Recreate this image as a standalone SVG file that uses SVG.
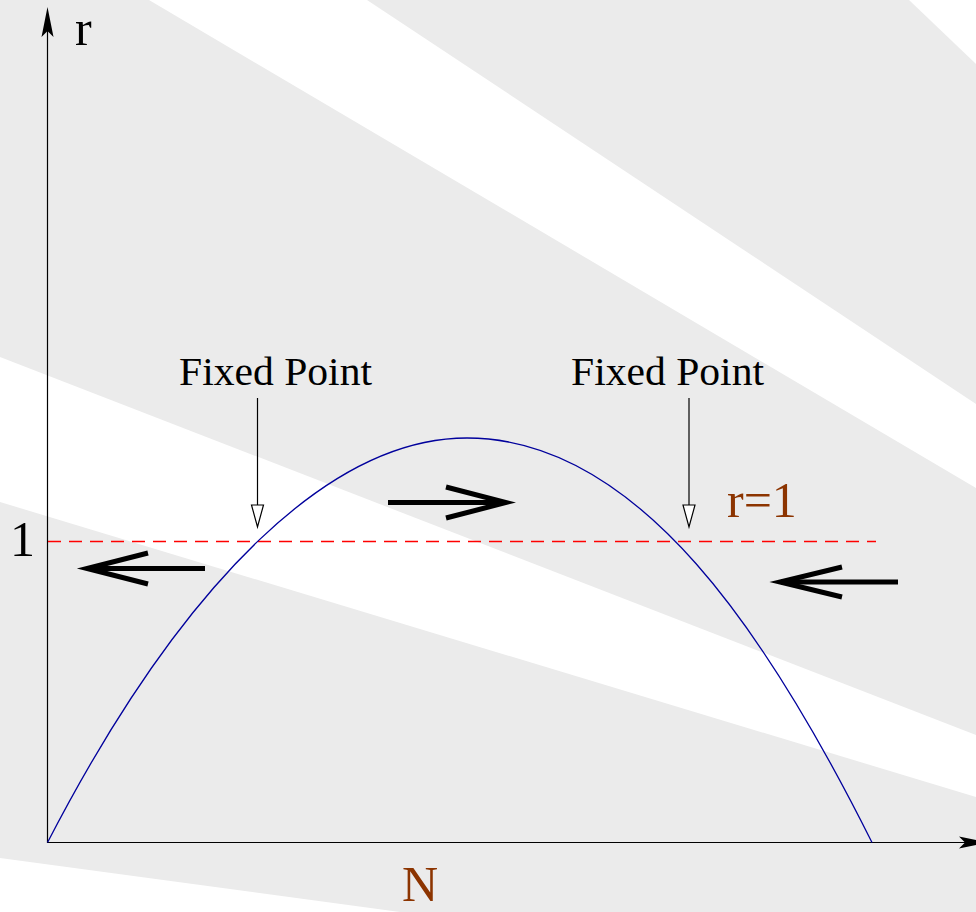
<svg xmlns="http://www.w3.org/2000/svg" width="976" height="912" viewBox="0 0 976 912">
  <defs>
    <style>
      .serif { font-family: "Liberation Serif", "Times New Roman", serif; }
      .lbl { font-size: 50px; fill: #000; }
      .brown { fill: #8c3400; }
      .fp { font-size: 40px; fill: #000; }
      .axis { stroke: #000; stroke-width: 1.2; fill: none; }
      .pointer { stroke: #000; stroke-width: 1.2; fill: none; }
      .hollow { stroke: #000; stroke-width: 1.2; fill: #fff; }
      .flow { stroke: #000; stroke-width: 5; fill: none; stroke-linejoin: miter; stroke-miterlimit: 10; }
      .dash { stroke: #ff0000; stroke-width: 1.5; stroke-dasharray: 13 8; fill: none; }
    </style>
  </defs>

  <!-- background sunburst -->
  <g id="background">
    <rect x="0" y="0" width="976" height="912" fill="#ebebeb"/>
    <polygon points="149,0 367,0 976,404 976,488" fill="#fff"/>
    <polygon points="909,0 976,0 976,64" fill="#fff"/>
    <polygon points="0,357 976,735 976,797 0,502" fill="#fff"/>
    <polygon points="0,858 400,912 0,912" fill="#fff"/>
  </g>

  <!-- axes -->
  <g id="axes">
    <line class="axis" x1="47.5" y1="843" x2="47.5" y2="30"/>
    <path d="M47.5,7 L53.5,37 L47.5,31 L41.5,37 Z" fill="#000"/>
    <line class="axis" x1="47" y1="842.5" x2="965" y2="842.5"/>
    <path d="M989,842.5 L959,836.5 L965,842.5 L959,848.5 Z" fill="#000"/>
  </g>

  <!-- r = 1 reference line -->
  <g id="r1-line">
    <path class="dash" d="M48,541.5 H876"/>
  </g>

  <!-- growth curve -->
  <g id="curve">
    <path d="M47.5,842.5 C187,572.8 335,438 467,438 C640,438 770,638.5 872,842.5" fill="none" stroke="#00009c" stroke-width="1.3"/>
  </g>

  <!-- labels -->
  <g id="label-r"><text class="serif lbl" x="75" y="45">r</text></g>
  <g id="label-1"><text class="serif lbl" x="22.5" y="556" text-anchor="middle">1</text></g>
  <g id="label-N"><text class="serif lbl brown" x="420" y="901" text-anchor="middle">N</text></g>
  <g id="label-r1"><text class="serif lbl brown" x="727" y="517">r=1</text></g>
  <g id="fixed-point-left"><text class="serif fp" x="179" y="385" textLength="193" lengthAdjust="spacingAndGlyphs">Fixed Point</text></g>
  <g id="fixed-point-right"><text class="serif fp" x="571" y="385" textLength="193" lengthAdjust="spacingAndGlyphs">Fixed Point</text></g>

  <!-- connectors -->
  <g id="connectors">
    <line class="pointer" x1="257.5" y1="398" x2="257.5" y2="505"/>
    <path class="hollow" d="M251.5,505 L263.5,505 L257.5,527 Z"/>
    <line class="pointer" x1="689" y1="398" x2="689" y2="505"/>
    <path class="hollow" d="M683,505 L695,505 L689,527 Z"/>

    <path class="flow" d="M205,568.5 H88"/>
    <path class="flow" d="M148,553 L87,568.5 L148,584"/>

    <path class="flow" d="M388,502.5 H505"/>
    <path class="flow" d="M446,487 L506,502.5 L446,518"/>

    <path class="flow" d="M898,582 H781"/>
    <path class="flow" d="M842,567 L780,582 L842,597"/>
  </g>
</svg>
